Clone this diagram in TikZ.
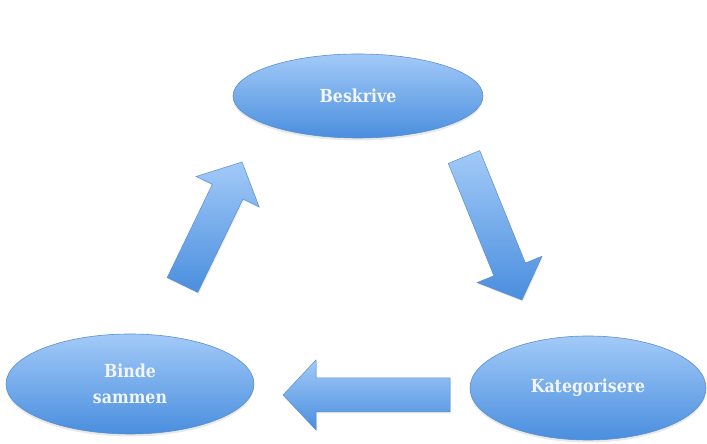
\documentclass[tikz,border=0pt]{standalone}
\usepackage{fontspec}
\setmainfont{DejaVu Serif}[FakeStretch=0.88]
\usepackage{tikz}
\usetikzlibrary{calc,shapes.geometric,shadows}

\definecolor{blobtop}{HTML}{A2CAF8}
\definecolor{blobbottom}{HTML}{4A8EDE}
\definecolor{blobline}{HTML}{5B8FCF}
\definecolor{blobtext}{HTML}{F2F6FC}

\tikzset{
  blob/.style={ellipse, draw=blobline, line width=0.6bp, top color=blobtop, bottom color=blobbottom,
    text=blobtext, align=center, inner sep=0pt, font=\fontsize{18}{26}\selectfont\bfseries,
    drop shadow={fill=black!50, opacity=0.18, shadow xshift=0bp, shadow yshift=-2.5bp}},
  arrowfill/.style={draw=blobline, line width=0.5bp, top color=blobtop, bottom color=blobbottom,
    line join=miter, drop shadow={fill=black!50, opacity=0.15, shadow xshift=1bp, shadow yshift=-1.5bp}}
}

% block arrow from tail #1 to tip #2
\newcommand{\blockarrow}[2]{%
  \coordinate (hb) at ($(#2)!33bp!(#1)$);
  \path[arrowfill] ($(#1)!17bp!90:(#2)$) -- ($(hb)!17bp!90:(#2)$) -- ($(hb)!35bp!90:(#2)$) -- (#2)
    -- ($(hb)!35bp!-90:(#2)$) -- ($(hb)!17bp!-90:(#2)$) -- ($(#1)!17bp!-90:(#2)$) -- cycle;
}

\begin{document}
\begin{tikzpicture}[x=1bp,y=1bp]
\useasboundingbox (0,0) rectangle (707,444);

\node[blob, minimum width=250bp, minimum height=84bp] (beskrive) at (358,348) {Beskrive};
\node[blob, minimum width=248bp, minimum height=100bp] (binde) at (130,60) {Binde\\sammen};
\node[blob, minimum width=236bp, minimum height=104bp] (kat) at (588,56) {Kategorisere};

\coordinate (up tail) at (182.5,159);
\coordinate (up tip) at (242,282);
\coordinate (down tail) at (464,287);
\coordinate (down tip) at (522,144);
\coordinate (left tail) at (450,49);
\coordinate (left tip) at (283,49);

\blockarrow{up tail}{up tip}
\blockarrow{down tail}{down tip}
\blockarrow{left tail}{left tip}
\end{tikzpicture}
\end{document}
